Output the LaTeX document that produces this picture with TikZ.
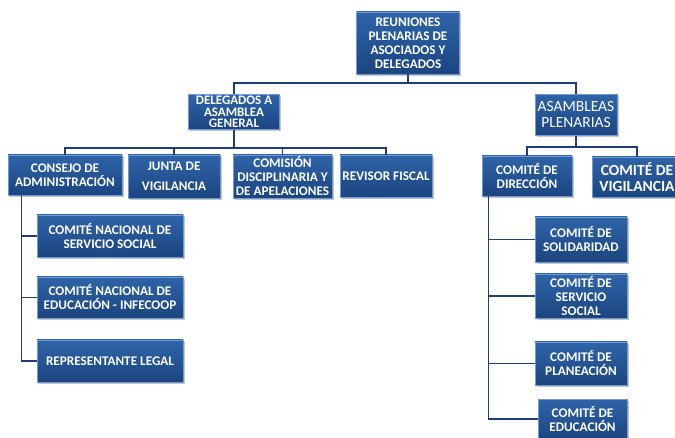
\documentclass[tikz,border=0pt]{standalone}
\usepackage{fontspec}
\setmainfont{Carlito}
\usetikzlibrary{shadows}
\definecolor{boxtop}{HTML}{2F64A8}
\definecolor{boxbot}{HTML}{1B4580}
\definecolor{boxrim}{HTML}{6F9AD6}
\definecolor{linkblue}{HTML}{1F3E78}
\begin{document}
\begin{tikzpicture}[x=1pt, y=-1pt,
		orgbox/.style={rectangle, draw=boxrim, line width=0.6pt, top color=boxtop, bottom color=boxbot,
			drop shadow={shadow xshift=1.5pt, shadow yshift=-2pt, opacity=0.45},
			text=white, align=center, inner sep=0.5pt,
			font=\bfseries\fontsize{13.2}{14}\selectfont},
		link/.style={draw=linkblue, line width=1.4pt}]
		\useasboundingbox (0,0) rectangle (675,438);
		
		%top levels
		\node[orgbox, minimum width=103pt, minimum height=62pt] (reun) at (408,43){REUNIONES\\PLENARIAS DE\\ASOCIADOS Y\\DELEGADOS};
		\node[orgbox, minimum width=91pt, minimum height=35pt, font=\bfseries\fontsize{13}{11.5}\selectfont] (deleg) at (234,112){DELEGADOS A\\ASAMBLEA\\GENERAL};
		\node[orgbox, minimum width=82pt, minimum height=41pt, font=\fontsize{15.5}{16}\selectfont] (asamb) at (576,115){ASAMBLEAS\\PLENARIAS};
		
		%second row, left
		\node[orgbox, minimum width=114pt, minimum height=40pt] (consejo) at (65,175){CONSEJO DE\\ADMINISTRACIÓN};
		\node[orgbox, minimum width=92pt, minimum height=43pt] (junta) at (174,176.5){JUNTA DE\\[6pt]VIGILANCIA};
		\node[orgbox, minimum width=99pt, minimum height=43pt] (comision) at (282.5,176.5){COMISIÓN\\DISCIPLINARIA Y\\DE APELACIONES};
		\node[orgbox, minimum width=92pt, minimum height=42pt] (revisor) at (386,176){REVISOR FISCAL};
		
		%second row, right
		\node[orgbox, minimum width=90pt, minimum height=40pt] (dir) at (527,176){COMITÉ DE\\DIRECCIÓN};
		\node[orgbox, minimum width=90pt, minimum height=40pt, font=\bfseries\fontsize{15.5}{16}\selectfont] (vigil) at (637,177){COMITÉ DE\\VIGILANCIA};
		
		%under consejo
		\node[orgbox, minimum width=146pt, minimum height=42pt] (cnss) at (110,236){COMITÉ NACIONAL DE\\SERVICIO SOCIAL};
		\node[orgbox, minimum width=146pt, minimum height=41pt] (cned) at (110,297.5){COMITÉ NACIONAL DE\\EDUCACIÓN - INFECOOP};
		\node[orgbox, minimum width=146pt, minimum height=42pt] (replegal) at (110,361){REPRESENTANTE LEGAL};
		
		%under direccion
		\node[orgbox, minimum width=92pt, minimum height=45pt] (solid) at (581,239.5){COMITÉ DE\\SOLIDARIDAD};
		\node[orgbox, minimum width=92pt, minimum height=44pt] (csss) at (581,296){COMITÉ DE\\SERVICIO\\SOCIAL};
		\node[orgbox, minimum width=92pt, minimum height=43pt] (plan) at (581,363.5){COMITÉ DE\\PLANEACIÓN};
		\node[orgbox, minimum width=89pt, minimum height=40pt] (educ) at (582.5,419){COMITÉ DE\\EDUCACIÓN};
		
		%connectors
		\coordinate (topbus) at (408,83);
		\coordinate (leftbus) at (234,148);
		\coordinate (rightbus) at (576,147);
		\draw[link] (reun) -- (topbus);
		\draw[link] (topbus) -| (deleg);
		\draw[link] (topbus) -| (asamb);
		\draw[link] (deleg) -- (leftbus);
		\foreach \n in {consejo, junta, comision, revisor}{
			\draw[link] (leftbus) -| (\n);
		}
		\draw[link] (asamb) -- (rightbus);
		\draw[link] (rightbus) -| (dir);
		\draw[link] (rightbus) -| (vigil);
		\foreach \n in {cnss, cned, replegal}{
			\draw[link] ([xshift=14pt]consejo.south west) |- (\n);
		}
		\foreach \n in {solid, csss, plan, educ}{
			\draw[link] ([xshift=7pt]dir.south west) |- (\n);
		}
\end{tikzpicture}
\end{document}
